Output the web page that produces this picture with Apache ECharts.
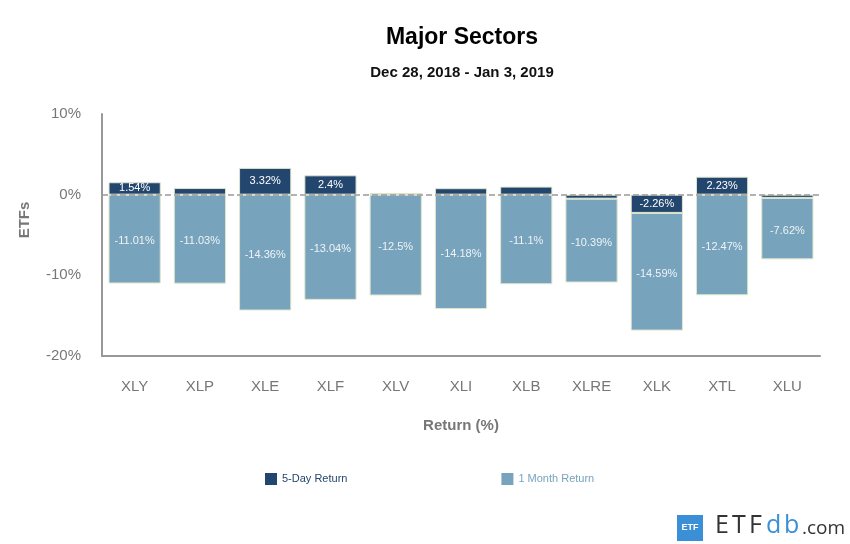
<!DOCTYPE html>
<html>
<head>
<meta charset="utf-8">
<script src="https://cdn.jsdelivr.net/npm/echarts@6/dist/echarts.min.js"></script>
<style>html,body{margin:0;padding:0;background:#fff}#c{width:850px;height:544px}</style>
</head>
<body>
<div id="c"></div>
<script>
const categories = ['XLY','XLP','XLE','XLF','XLV','XLI','XLB','XLRE','XLK','XTL','XLU'];
const fiveDay = [1.54, 0.82, 3.32, 2.4, 0.2, 0.8, 1.0, -0.5, -2.26, 2.23, -0.4];
const oneMonth = [-11.01, -11.03, -14.36, -13.04, -12.5, -14.18, -11.1, -10.39, -14.59, -12.47, -7.62];
const yTicks = [-20, -10, 0, 10];

const chart = echarts.init(document.getElementById('c'));
const FONT = 'Liberation Sans, Arial, sans-serif';
const LOGO = 'Open Sans, sans-serif';
const fmt = p => Math.abs(p.value) >= 1.5 ? p.value + '%' : '';
const logoLetters = [['E', 715], ['T', 732], ['F', 749], ['d', 766], ['b', 784]];
chart.setOption({
  animation: false,
  textStyle: { fontFamily: FONT },
  legend: [
    { left: 260, top: 468, itemWidth: 12, itemHeight: 12, itemGap: 154, icon: 'rect',
      itemStyle: { borderWidth: 0 },
      data: [
        { name: '5-Day Return', textStyle: { color: '#22466e' } },
        { name: '1 Month Return', textStyle: { color: '#77a3bc' } }
      ],
      textStyle: { fontSize: 11, fontFamily: FONT } }
  ],
  grid: { left: 102, top: 114, width: 718, height: 242 },
  xAxis: {
    type: 'category', data: categories,
    name: 'Return (%)', nameLocation: 'middle', nameGap: 62,
    nameTextStyle: { fontSize: 15, fontWeight: 'bold', color: '#777', fontFamily: FONT },
    axisLine: { onZero: false, lineStyle: { color: '#999', width: 2 } },
    axisTick: { show: false },
    axisLabel: { color: '#777', fontSize: 15, margin: 23, fontFamily: FONT }
  },
  yAxis: {
    type: 'value', min: -20, max: 10, interval: 10,
    axisLine: { show: true, lineStyle: { color: '#999', width: 2 } },
    axisTick: { show: false },
    splitLine: { show: false },
    axisLabel: { color: '#777', fontSize: 15, margin: 21, fontFamily: FONT,
      formatter: v => yTicks.includes(v) ? v + '%' : '' }
  },
  series: [
    { name: '5-Day Return', type: 'bar', stack: 'r', data: fiveDay, barWidth: '80%',
      itemStyle: { color: '#22466e', borderColor: '#dfe6cf', borderWidth: 1 },
      label: { show: true, position: 'inside', color: '#fff', fontSize: 11, formatter: fmt },
      markLine: { silent: true, symbol: ['none','none'], label: { show: false },
        lineStyle: { color: '#999', type: 'dashed', width: 1.5 }, data: [{ yAxis: 0 }] }
    },
    { name: '1 Month Return', type: 'bar', stack: 'r', data: oneMonth, barWidth: '80%',
      itemStyle: { color: '#77a3bc', borderColor: '#dfe6cf', borderWidth: 1 },
      label: { show: true, position: 'inside', color: '#eef3f6', fontSize: 11, offset: [0, 2], formatter: p => p.value + '%' }
    }
  ],
  graphic: [
    { type: 'text', x: 462, y: 38, style: { text: 'Major Sectors', fontSize: 23, fontWeight: 'bold', fill: '#000',
        fontFamily: FONT, align: 'center', verticalAlign: 'middle' } },
    { type: 'text', x: 462, y: 73, style: { text: 'Dec 28, 2018 - Jan 3, 2019', fontSize: 15, fontWeight: 'bold', fill: '#111',
        fontFamily: FONT, align: 'center', verticalAlign: 'middle' } },
    { type: 'text', x: 25, y: 220, rotation: Math.PI / 2,
      style: { text: 'ETFs', fontSize: 15, fontWeight: 'bold', fill: '#777', fontFamily: FONT,
        align: 'center', verticalAlign: 'middle' } },
    { type: 'rect', shape: { x: 677, y: 515, width: 26, height: 26 }, style: { fill: '#3b8fd6' } },
    { type: 'text', x: 690, y: 528, style: { text: 'ETF', fontSize: 9, fontWeight: 'bold', fill: '#fff',
        fontFamily: FONT, align: 'center', verticalAlign: 'middle' } },
    ...logoLetters.map(([ch, x]) => ({ type: 'text', x: x, y: 538, style: {
        text: ch, fontSize: 25, fill: /[db]/.test(ch) ? '#3b8fd6' : '#333', fontFamily: LOGO,
        verticalAlign: 'bottom' } })),
    { type: 'text', x: 802, y: 538, style: { text: '.com', fontSize: 19, fill: '#333', fontFamily: LOGO,
        verticalAlign: 'bottom' } }
  ]
});
</script>
</body>
</html>
